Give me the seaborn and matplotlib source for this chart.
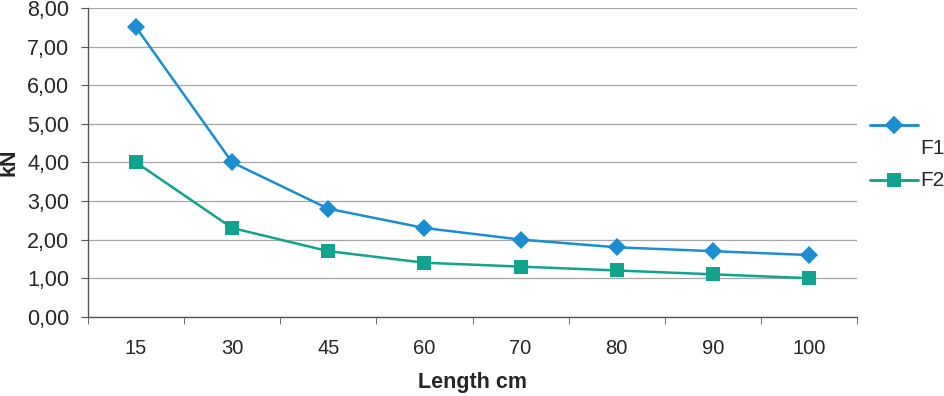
import numpy as np
import matplotlib
matplotlib.use("Agg")
import matplotlib.pyplot as plt
import seaborn as sns
import pandas as pd
from matplotlib.ticker import FuncFormatter, FixedLocator

# dados
comprimentos = ["15", "30", "45", "60", "70", "80", "90", "100"]
f1 = [7.50, 4.00, 2.80, 2.30, 2.00, 1.80, 1.70, 1.60]
f2 = [4.00, 2.30, 1.70, 1.40, 1.30, 1.20, 1.10, 1.00]

df = pd.DataFrame({
    "pos": list(range(len(comprimentos))) * 2,
    "kN": f1 + f2,
    "serie": ["F1"] * len(f1) + ["F2"] * len(f2),
})

sns.set_style("white")
plt.rcParams["font.family"] = ["Liberation Sans", "DejaVu Sans"]

fig, ax = plt.subplots(figsize=(9.45, 3.96), dpi=100)
fig.subplots_adjust(left=0.093, right=0.907, top=0.98, bottom=0.2)

cores = {"F1": "#1a8ed0", "F2": "#12a38c"}
sns.lineplot(data=df, x="pos", y="kN", hue="serie", style="serie",
             markers={"F1": "D", "F2": "s"}, dashes=False, palette=cores,
             markersize=9.5, linewidth=1.8, markeredgewidth=0, ax=ax)

ax.set_xlim(-0.5, len(comprimentos) - 0.5)
ax.set_ylim(0, 8)
ax.set_yticks(np.arange(0, 9, 1))
ax.yaxis.set_major_formatter(FuncFormatter(lambda v, p: f"{v:.2f}".replace(".", ",")))
ax.set_xticks(range(len(comprimentos)))
ax.set_xticklabels(comprimentos)
ax.xaxis.set_minor_locator(FixedLocator(np.arange(-0.5, len(comprimentos), 1)))
ax.tick_params(axis="x", which="major", length=0, labelsize=14.5, pad=16)
ax.tick_params(axis="x", which="minor", length=5, color="#555555", direction="out", bottom=True)
ax.tick_params(axis="y", length=5, color="#555555", direction="out", labelsize=15.5, left=True, pad=8.5)

ax.yaxis.grid(True, color="#a6a6a6", linewidth=0.9)
ax.set_axisbelow(True)
for s in ["top", "right"]:
    ax.spines[s].set_visible(False)
for s in ["left", "bottom"]:
    ax.spines[s].set_color("#555555")
    ax.spines[s].set_linewidth(1)

ax.set_xlabel("Length cm", fontsize=15.5, fontweight="bold", labelpad=10)
ax.set_ylabel("kN", fontsize=15.5, fontweight="bold")
ax.yaxis.set_label_coords(-0.089, 0.5)

# legenda como no original: marcadores e textos um pouco desalinhados
handles, labels = ax.get_legend_handles_labels()
ax.get_legend().remove()
for h, y in zip(handles, [1 - 127 / 396, 1 - 182 / 396]):
    leg = fig.legend([h], [""], loc="center left", bbox_to_anchor=(870 / 945, y),
                     frameon=False, fontsize=14, handlelength=2.47,
                     borderpad=0, borderaxespad=0, handletextpad=0)
    fig.add_artist(leg)
fig.text(920 / 945, 1 - 148 / 396, "F1", fontsize=15, va="center", ha="left")
fig.text(920 / 945, 1 - 181 / 396, "F2", fontsize=15, va="center", ha="left")

plt.savefig("out.png", dpi=100)
